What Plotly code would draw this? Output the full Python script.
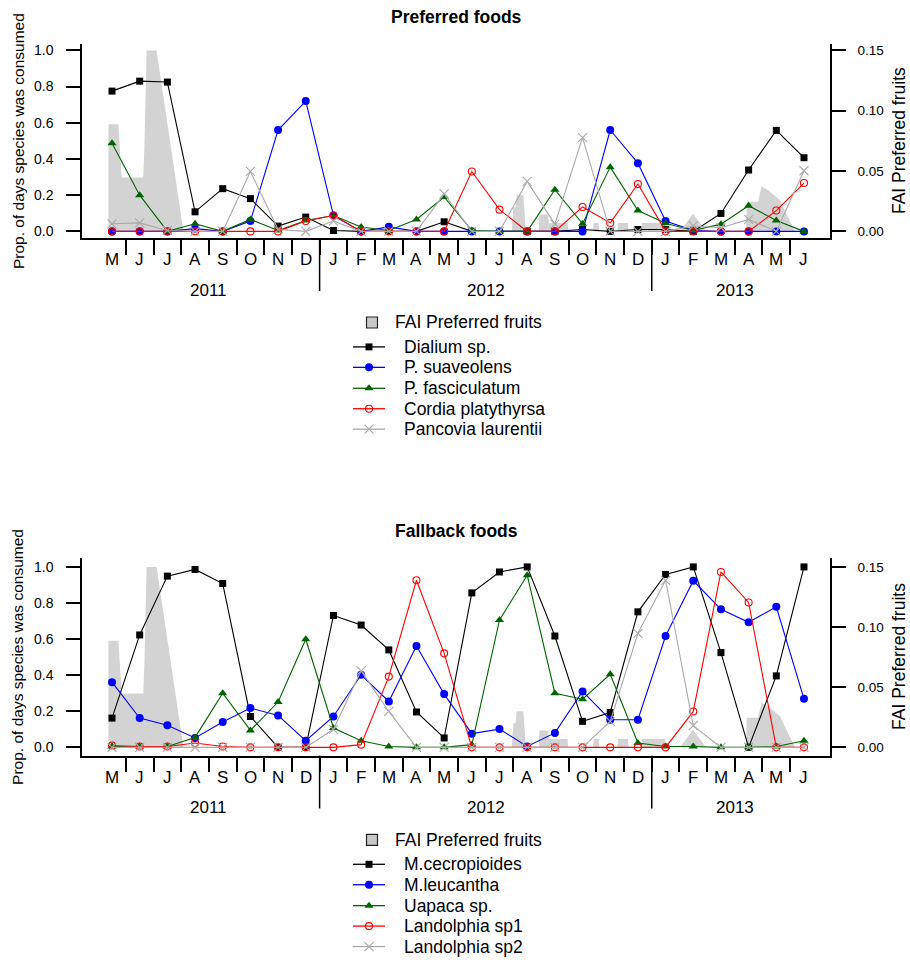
import plotly.graph_objects as go

W, H = 910, 960

# ---------------------------------------------------------------- data
MONTHS = ["M", "J", "J", "A", "S", "O", "N", "D",
          "J", "F", "M", "A", "M", "J", "J", "A", "S", "O", "N", "D",
          "J", "F", "M", "A", "M", "J"]
YEARS = ["2011", "2012", "2013"]
YEAR_LENGTHS = [8, 12, 6]

# Preferred foods: proportion of days each species was consumed
dialium = [0.775, 0.830, 0.825, 0.108, 0.236, 0.181, 0.029, 0.079, 0.005, 0.000,
           0.000, 0.000, 0.053, 0.000, 0.000, 0.000, 0.000, 0.010, 0.000, 0.010,
           0.010, 0.000, 0.099, 0.339, 0.558, 0.407]
suaveolens = [0.000, 0.000, 0.000, 0.015, 0.000, 0.057, 0.560, 0.720, 0.088, 0.000,
              0.025, 0.000, 0.000, 0.000, 0.000, 0.000, 0.000, 0.000, 0.560, 0.377,
              0.057, 0.005, 0.000, 0.000, 0.000, 0.000]
fasciculatum = [0.487, 0.200, 0.000, 0.042, 0.000, 0.066, 0.005, 0.060, 0.088, 0.024,
                0.005, 0.066, 0.190, 0.005, 0.000, 0.000, 0.230, 0.042, 0.355, 0.115,
                0.045, 0.005, 0.040, 0.142, 0.060, 0.000]
cordia = [0.000, 0.000, 0.000, 0.000, 0.000, 0.000, 0.000, 0.057, 0.088, 0.000,
          0.000, 0.000, 0.000, 0.331, 0.120, 0.000, 0.000, 0.135, 0.047, 0.262,
          0.000, 0.000, 0.000, 0.000, 0.115, 0.267]
pancovia = [0.042, 0.047, 0.005, 0.000, 0.000, 0.331, 0.010, 0.000, 0.057, 0.000,
            0.000, 0.000, 0.207, 0.000, 0.000, 0.276, 0.040, 0.518, 0.000, 0.000,
            0.000, 0.030, 0.020, 0.066, 0.000, 0.335]

# Fallback foods
cecropioides = [0.162, 0.623, 0.949, 0.986, 0.908, 0.171, 0.000, 0.000, 0.731, 0.678,
                0.540, 0.196, 0.052, 0.856, 0.972, 1.000, 0.617, 0.144, 0.193, 0.751,
                0.958, 1.000, 0.525, 0.000, 0.396, 1.000]
leucantha = [0.361, 0.162, 0.122, 0.052, 0.140, 0.218, 0.177, 0.037, 0.171, 0.402,
             0.254, 0.562, 0.295, 0.076, 0.101, 0.005, 0.080, 0.310, 0.153, 0.153,
             0.617, 0.923, 0.765, 0.693, 0.779, 0.269]
uapaca = [0.005, 0.005, 0.005, 0.055, 0.300, 0.094, 0.251, 0.599, 0.107, 0.037,
          0.005, 0.000, 0.000, 0.015, 0.706, 0.954, 0.300, 0.267, 0.405, 0.024,
          0.005, 0.005, 0.000, 0.000, 0.005, 0.037]
landolphia1 = [0.010, 0.005, 0.005, 0.024, 0.005, 0.000, 0.000, 0.000, 0.000, 0.015,
               0.392, 0.926, 0.521, 0.000, 0.000, 0.000, 0.000, 0.000, 0.000, 0.000,
               0.000, 0.199, 0.972, 0.803, 0.000, 0.000]
landolphia2 = [0.000, 0.000, 0.000, 0.000, 0.000, 0.000, 0.000, 0.000, 0.100, 0.424,
               0.199, 0.000, 0.000, 0.000, 0.000, 0.000, 0.000, 0.000, 0.144, 0.632,
               0.926, 0.120, 0.000, 0.000, 0.000, 0.000]

# Fruit availability index of preferred fruits (time in months since May 2011)
fai_t = [-0.13, -0.13, 0.23, 0.35, 1.13, 1.17, 1.25, 1.61, 2.58,
         14.44, 14.50, 14.58, 14.62, 14.86, 14.95,
         15.42, 15.44, 15.76, 15.78, 16.46, 16.48,
         17.38, 17.40, 17.58, 17.60,
         18.26, 18.28, 18.64, 18.66,
         19.12, 19.14, 19.98, 20.00,
         20.52, 20.99, 21.46,
         22.91, 22.93, 23.34, 23.47, 23.70, 24.13, 24.67]
fai = [0.0, 0.0887, 0.0887, 0.0447, 0.0447, 0.070, 0.150, 0.150, 0.0,
       0.0, 0.020, 0.020, 0.030, 0.030, 0.0,
       0.0, 0.014, 0.014, 0.007, 0.007, 0.0,
       0.0, 0.007, 0.007, 0.0,
       0.0, 0.007, 0.007, 0.0,
       0.0, 0.007, 0.007, 0.0,
       0.0, 0.0147, 0.0,
       0.0, 0.0246, 0.0246, 0.0373, 0.034, 0.026, 0.0]

PREFERRED = [("Dialium sp.", dialium), ("P. suaveolens", suaveolens),
             ("P. fasciculatum", fasciculatum), ("Cordia platythyrsa", cordia),
             ("Pancovia laurentii", pancovia)]
FALLBACK = [("M.cecropioides", cecropioides), ("M.leucantha", leucantha),
            ("Uapaca sp.", uapaca), ("Landolphia sp1", landolphia1),
            ("Landolphia sp2", landolphia2)]
FAI_LABEL = "FAI Preferred fruits"

# ---------------------------------------------------------------- styling
FONT = "Liberation Sans, Arial, sans-serif"
FAI_FILL = "#D3D3D3"
STYLES = [
    dict(color="#000000", symbol="square", size=7, open=False),
    dict(color="#0000FF", symbol="circle", size=8, open=False),
    dict(color="#006400", symbol="triangle-up", size=8, open=False),
    dict(color="#FF0000", symbol="circle-open", size=7, open=True),
    dict(color="#A9A9A9", symbol="x-thin-open", size=9, open=True),
]

X_LEFT, X_RIGHT = 82, 830
X_RANGE = [-1.084, 25.94]
PANELS = [
    dict(title="Preferred foods", series=PREFERRED, top=42, bottom=237,
         yrange=[-0.038, 1.036], xa="x", fai_ax="y", prop_ax="y2"),
    dict(title="Fallback foods", series=FALLBACK, top=558, bottom=756,
         yrange=[-0.046, 1.048], xa="x2", fai_ax="y3", prop_ax="y4"),
]
LEGEND_OFFSETS = [84.5, 109, 129.5, 150.5, 171, 191.5]


def py(p):
    """pixel row (from top) -> paper y"""
    return 1 - p / H


def px(p):
    return p / W


def marker_of(st):
    m = dict(symbol=st["symbol"], size=st["size"], color=st["color"])
    if st["open"]:
        m["line"] = dict(color=st["color"], width=1.1)
    return m


fig = go.Figure()
annotations = []
shapes = []
axis_common = dict(showgrid=False, zeroline=False, showline=True, linecolor="black",
                   linewidth=1.5, ticks="outside", tickcolor="black", tickwidth=1.5,
                   fixedrange=True)

for k, pan in enumerate(PANELS):
    xa = pan["xa"]
    xa_key = "xaxis" if xa == "x" else "xaxis" + xa[1:]
    fai_key = "yaxis" if pan["fai_ax"] == "y" else "yaxis" + pan["fai_ax"][1:]
    prop_key = "yaxis" + pan["prop_ax"][1:]
    dom = [py(pan["bottom"]), py(pan["top"])]
    y0, y1 = pan["yrange"]

    fig.update_layout(**{
        xa_key: dict(domain=[px(X_LEFT), px(X_RIGHT)], anchor=pan["fai_ax"],
                     range=X_RANGE, tickvals=[i + 0.5 for i in range(len(MONTHS) - 1)],
                     ticklen=15, showticklabels=False, **axis_common),
        fai_key: dict(domain=dom, anchor=xa, side="right", range=[y0 * 0.15, y1 * 0.15],
                      tickvals=[0, 0.05, 0.10, 0.15], tickformat=".2f", ticklen=14,
                      ticklabelstandoff=9, tickfont=dict(size=13.5), **axis_common),
        prop_key: dict(overlaying=pan["fai_ax"], anchor=xa, side="left", range=[y0, y1],
                       tickvals=[0, 0.2, 0.4, 0.6, 0.8, 1.0], tickformat=".1f", ticklen=14,
                       ticklabelstandoff=10, tickfont=dict(size=14), **axis_common),
    })

    # fruit availability as shaded area (right axis)
    fig.add_trace(go.Scatter(x=fai_t, y=fai, xaxis=xa, yaxis=pan["fai_ax"], mode="lines",
                             fill="tozeroy", fillcolor=FAI_FILL,
                             line=dict(width=0, color="rgba(0,0,0,0)"),
                             hoverinfo="skip", name=FAI_LABEL))

    # species consumption lines (left axis)
    for (name, vals), st in zip(pan["series"], STYLES):
        fig.add_trace(go.Scatter(x=list(range(len(vals))), y=vals, xaxis=xa,
                                 yaxis=pan["prop_ax"], mode="lines+markers", name=name,
                                 line=dict(color=st["color"], width=1.1),
                                 marker=marker_of(st), cliponaxis=False))

    # title and axis titles
    annotations.append(dict(text="<b>%s</b>" % pan["title"], xref="paper", yref="paper",
                            x=px((X_LEFT + X_RIGHT) / 2), y=py(pan["top"] - 27),
                            showarrow=False, font=dict(size=17.5), xanchor="center",
                            yanchor="middle"))
    mid = (pan["top"] + pan["bottom"]) / 2
    annotations.append(dict(text="Prop. of days species was consumed", xref="paper",
                            yref="paper", x=px(18), y=py(mid), textangle=-90,
                            showarrow=False, font=dict(size=15.5), xanchor="center",
                            yanchor="middle"))
    annotations.append(dict(text=FAI_LABEL, xref="paper", yref="paper", x=px(899),
                            y=py(mid), textangle=-90, showarrow=False,
                            font=dict(size=17.5), xanchor="center", yanchor="middle"))

    # month and year labels
    for i, m in enumerate(MONTHS):
        annotations.append(dict(text=m, xref=xa, yref="paper", x=i,
                                y=py(pan["bottom"] + 21.5), showarrow=False,
                                font=dict(size=17), xanchor="center", yanchor="middle"))
    start = 0
    for yr, n in zip(YEARS, YEAR_LENGTHS):
        annotations.append(dict(text=yr, xref=xa, yref="paper", x=start + (n - 1) / 2,
                                y=py(pan["bottom"] + 52), showarrow=False,
                                font=dict(size=17), xanchor="center", yanchor="middle"))
        start += n
        if start < len(MONTHS):
            shapes.append(dict(type="line", xref=xa, yref="paper", x0=start - 0.5,
                               x1=start - 0.5, y0=py(pan["bottom"]),
                               y1=py(pan["bottom"] + 53),
                               line=dict(color="black", width=1.5)))

    # legend block drawn on a pixel-space overlay axis
    rows = [pan["bottom"] + o for o in LEGEND_OFFSETS]
    fig.add_trace(go.Scatter(x=[372], y=[rows[0]], xaxis="x3", yaxis="y5", mode="markers",
                             marker=dict(symbol="square", size=11, color="#C8C8C8",
                                         line=dict(color="#222222", width=1.2)),
                             hoverinfo="skip", showlegend=False))
    annotations.append(dict(text=FAI_LABEL, xref="paper", yref="paper", x=px(393),
                            y=py(rows[0]), showarrow=False, font=dict(size=17.5),
                            xanchor="left", yanchor="middle"))
    for (name, _), st, yrow in zip(pan["series"], STYLES, rows[1:]):
        fig.add_trace(go.Scatter(x=[353, 385], y=[yrow, yrow], xaxis="x3", yaxis="y5",
                                 mode="lines", line=dict(color=st["color"], width=1.3),
                                 hoverinfo="skip", showlegend=False))
        fig.add_trace(go.Scatter(x=[369], y=[yrow], xaxis="x3", yaxis="y5",
                                 mode="markers", marker=marker_of(st),
                                 hoverinfo="skip", showlegend=False))
        annotations.append(dict(text=name, xref="paper", yref="paper", x=px(401.5),
                                y=py(yrow), showarrow=False, font=dict(size=17.5),
                                xanchor="left", yanchor="middle"))

fig.update_layout(
    xaxis3=dict(domain=[0, 1], anchor="y5", range=[0, W], visible=False, fixedrange=True),
    yaxis5=dict(domain=[0, 1], anchor="x3", range=[H, 0], visible=False, fixedrange=True),
)

fig.update_layout(
    width=W, height=H, margin=dict(l=0, r=0, t=0, b=0),
    paper_bgcolor="white", plot_bgcolor="rgba(0,0,0,0)", showlegend=False,
    font=dict(family=FONT, color="black"),
    annotations=annotations, shapes=shapes,
)

fig.write_html("out.html")
